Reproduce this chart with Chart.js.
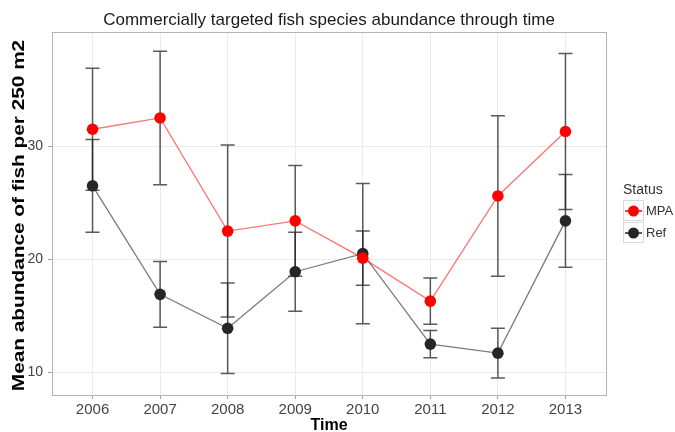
<!DOCTYPE html>
<html>
<head>
<meta charset="utf-8">
<script src="https://cdn.jsdelivr.net/npm/chart.js@4.4.1/dist/chart.umd.min.js"></script>
<style>
  html, body { margin: 0; padding: 0; background: #fff; }
</style>
</head>
<body>
<canvas id="fishChart" width="675" height="432"></canvas>
<script>
// values
const years = [2006, 2007, 2008, 2009, 2010, 2011, 2012, 2013];
const mpaMean = [31.5, 32.5, 22.5, 23.4, 20.1, 16.3, 25.6, 31.3];
const mpaErr = [5.4, 5.9, 7.6, 4.9, 2.4, 2.05, 7.1, 6.9];
const refMean = [26.5, 16.9, 13.9, 18.9, 20.5, 12.5, 11.7, 23.4];
const refErr = [4.1, 2.9, 4.0, 3.5, 6.2, 1.2, 2.2, 4.1];
const yTicks = [10, 20, 30];
const statusLabels = ["MPA", "Ref"];
const yTitle = "Mean abundance of fish per 250 m2";

const FONT = "'Liberation Sans', Arial, sans-serif";

// error bars drawn under the points
const errorBars = {
    id: "errorBars",
    beforeDatasetsDraw(chart) {
        const ctx = chart.ctx;
        const y = chart.scales.y;
        ctx.save();
        ctx.strokeStyle = "rgba(35,35,35,0.75)";
        ctx.lineWidth = 1.5;
        chart.data.datasets.forEach((ds, i) => {
            const meta = chart.getDatasetMeta(i);
            ds.errors.forEach((e, j) => {
                const px = meta.data[j].x;
                const v = ds.data[j].y;
                const top = y.getPixelForValue(v + e);
                const bot = y.getPixelForValue(v - e);
                ctx.beginPath();
                ctx.moveTo(px, top); ctx.lineTo(px, bot);
                ctx.moveTo(px - 7, top); ctx.lineTo(px + 7, top);
                ctx.moveTo(px - 7, bot); ctx.lineTo(px + 7, bot);
                ctx.stroke();
            });
        });
        ctx.restore();
    }
};

// ggplot style panel border, wide y title and legend on the right
const panelAndLegend = {
    id: "panelAndLegend",
    afterDraw(chart) {
        const ctx = chart.ctx;
        const a = chart.chartArea;
        ctx.save();
        ctx.strokeStyle = "#b3b3b3";
        ctx.lineWidth = 1;
        ctx.strokeRect(Math.round(a.left) + 0.5, Math.round(a.top) + 0.5,
            Math.round(a.right - a.left), Math.round(a.bottom - a.top));

        // y axis title, stretched along its length like the reference
        ctx.save();
        ctx.translate(20, (a.top + a.bottom) / 2 + 2);
        ctx.rotate(-Math.PI / 2);
        ctx.scale(1.3, 1);
        ctx.font = "bold 16px " + FONT;
        ctx.fillStyle = "#000";
        ctx.textAlign = "center";
        ctx.textBaseline = "middle";
        ctx.fillText(yTitle, 0, 0);
        ctx.restore();

        const lx = Math.round(a.right) + 17;
        ctx.fillStyle = "#333";
        ctx.font = "14px " + FONT;
        ctx.textBaseline = "middle";
        ctx.fillText("Status", lx, 190);
        ctx.font = "13px " + FONT;
        chart.data.datasets.forEach((ds, i) => {
            const cy = 211 + i * 22;
            ctx.strokeStyle = "#d9d9d9";
            ctx.lineWidth = 1;
            ctx.strokeRect(lx + 0.5, cy - 10.5, 20, 20);
            ctx.strokeStyle = ds.pointBackgroundColor;
            ctx.lineWidth = 1.5;
            ctx.beginPath();
            ctx.moveTo(lx + 2, cy); ctx.lineTo(lx + 19, cy);
            ctx.stroke();
            ctx.fillStyle = ds.pointBackgroundColor;
            ctx.beginPath();
            ctx.arc(lx + 10.5, cy, 5.5, 0, Math.PI * 2);
            ctx.fill();
            ctx.fillStyle = "#333";
            ctx.fillText(ds.label, lx + 23, cy);
        });
        ctx.restore();
    }
};

new Chart(document.getElementById("fishChart"), {
    type: "line",
    data: {
        datasets: [{
            label: statusLabels[0],
            data: years.map((yr, i) => ({ x: yr, y: mpaMean[i] })),
            errors: mpaErr,
            borderColor: "rgba(255,0,0,0.55)",
            borderWidth: 1.3,
            pointRadius: 5.8,
            pointBorderWidth: 0,
            pointBackgroundColor: "#ff0000",
            tension: 0
        }, {
            label: statusLabels[1],
            data: years.map((yr, i) => ({ x: yr, y: refMean[i] })),
            errors: refErr,
            borderColor: "rgba(50,50,50,0.65)",
            borderWidth: 1.3,
            pointRadius: 5.8,
            pointBorderWidth: 0,
            pointBackgroundColor: "#262626",
            tension: 0
        }]
    },
    options: {
        responsive: false,
        animation: false,
        devicePixelRatio: 1,
        layout: { padding: { left: 0, right: 69, top: 0, bottom: 0 } },
        plugins: {
            legend: { display: false },
            tooltip: { enabled: false },
            title: {
                display: true,
                fullSize: false,
                text: "Commercially targeted fish species abundance through time",
                color: "#1a1a1a",
                font: { family: FONT, size: 17, weight: "normal" },
                padding: { top: 10, bottom: 1.6 }
            }
        },
        scales: {
            x: {
                type: "linear",
                min: 2005.4,
                max: 2013.6,
                afterBuildTicks: s => { s.ticks = years.map(v => ({ value: v })); },
                afterFit: s => { s.height = 37; },
                ticks: {
                    callback: v => String(v),
                    color: "#444",
                    font: { family: FONT, size: 15 },
                    padding: 2,
                    maxRotation: 0
                },
                grid: { color: "#ebebeb", tickColor: "#a0a0a0", tickLength: 4 },
                border: { display: false },
                title: {
                    display: true,
                    text: "Time",
                    color: "#000",
                    font: { family: FONT, size: 16, weight: "bold" },
                    padding: { top: 0, bottom: -3.5 }
                }
            },
            y: {
                min: 8.0,
                max: 40.1,
                afterBuildTicks: s => { s.ticks = yTicks.map(v => ({ value: v })); },
                afterFit: s => { s.width = 52; },
                ticks: {
                    color: "#444",
                    font: { family: FONT, size: 14 },
                    padding: 5
                },
                grid: { color: "#ebebeb", tickColor: "#a0a0a0", tickLength: 4 },
                border: { display: false }
            }
        }
    },
    plugins: [errorBars, panelAndLegend]
});
</script>
</body>
</html>
